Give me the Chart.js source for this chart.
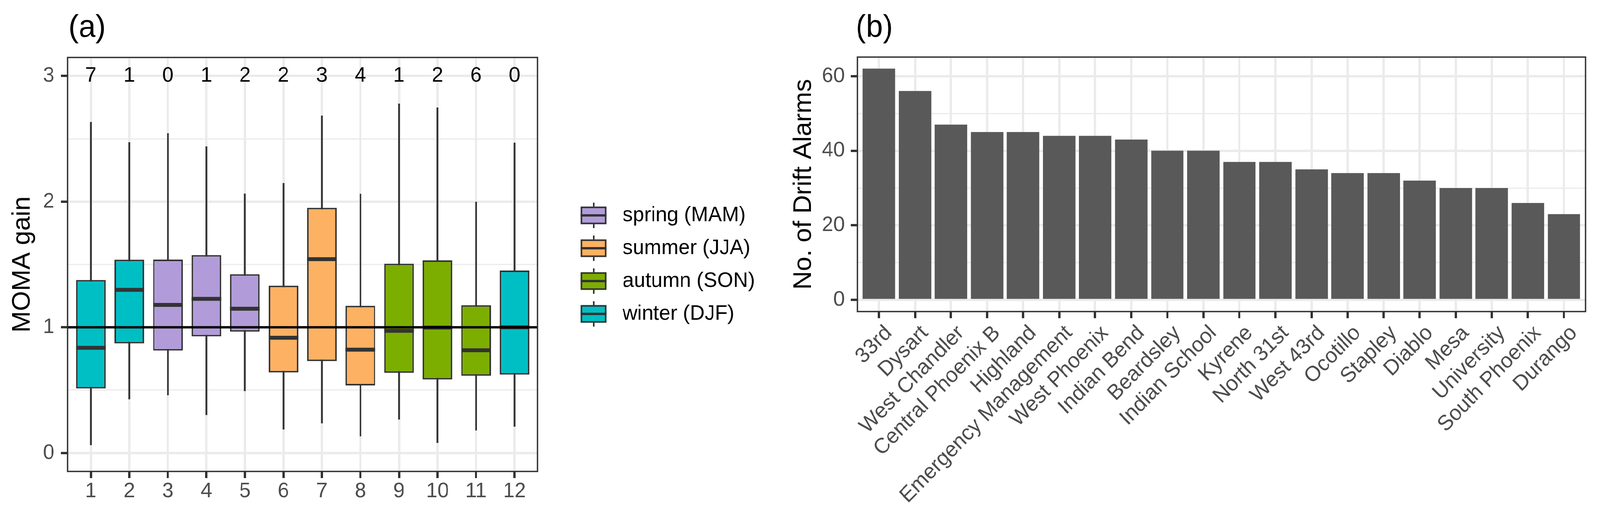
<!DOCTYPE html>
<html>
<head>
<meta charset="utf-8">
<script src="https://cdn.jsdelivr.net/npm/chart.js@4.4.1/dist/chart.umd.min.js"></script>
<style>
  html, body { margin: 0; padding: 0; background: #fff; overflow: hidden; }
  #stage { width: 4205px; height: 1320px; position: relative; transform-origin: 0 0; }
  #chartA { position: absolute; left: 0; top: 0; }
  #chartB { position: absolute; left: 2000px; top: 0; }
</style>
</head>
<body>
<div id="stage">
  <canvas id="chartA" width="2000" height="1320"></canvas>
  <canvas id="chartB" width="2205" height="1320"></canvas>
</div>
<script>
// ---------- panel (a): monthly MOMA gain ----------
const months = [1, 2, 3, 4, 5, 6, 7, 8, 9, 10, 11, 12];
const monthSeason = ['winter', 'winter', 'spring', 'spring', 'spring', 'summer',
                     'summer', 'summer', 'autumn', 'autumn', 'autumn', 'winter'];
const whiskerLow  = [0.063, 0.428, 0.460, 0.303, 0.493, 0.188, 0.237, 0.133, 0.267, 0.081, 0.180, 0.210];
const q1          = [0.513, 0.872, 0.815, 0.928, 0.965, 0.641, 0.731, 0.537, 0.638, 0.585, 0.614, 0.624];
const median      = [0.837, 1.298, 1.178, 1.226, 1.148, 0.917, 1.542, 0.822, 0.972, 0.998, 0.817, 1.000];
const q3          = [1.376, 1.538, 1.539, 1.575, 1.422, 1.331, 1.951, 1.171, 1.506, 1.533, 1.176, 1.452];
const whiskerHigh = [2.633, 2.472, 2.543, 2.438, 2.063, 2.147, 2.683, 2.061, 2.779, 2.748, 1.998, 2.468];
const outlierCounts = [7, 1, 0, 1, 2, 2, 3, 4, 1, 2, 6, 0];
const yTicksA = [0, 0.5, 1, 1.5, 2, 2.5, 3];

const seasonKeys = ['spring', 'summer', 'autumn', 'winter'];
const seasonLabels = ['spring (MAM)', 'summer (JJA)', 'autumn (SON)', 'winter (DJF)'];
const seasonColors = { spring: '#B19CD9', summer: '#FDB163', autumn: '#7CAE00', winter: '#00BFC4' };

// ---------- panel (b): drift alarms per station ----------
const stations = ['33rd', 'Dysart', 'West Chandler', 'Central Phoenix B', 'Highland',
                  'Emergency Management', 'West Phoenix', 'Indian Bend', 'Beardsley', 'Indian School',
                  'Kyrene', 'North 31st', 'West 43rd', 'Ocotillo', 'Stapley',
                  'Diablo', 'Mesa', 'University', 'South Phoenix', 'Durango'];
const alarms = [62, 56, 47, 45, 45, 44, 44, 43, 40, 40, 37, 37, 35, 34, 34, 32, 30, 30, 26, 23];
const yTicksB = [0, 10, 20, 30, 40, 50, 60];
const yLabelsB = [0, 20, 40, 60];

// the layout is drawn for 4205x1320; squeeze it if the window is smaller
(function fitStage() {
    const sx = window.innerWidth / 4205;
    const sy = window.innerHeight / 1320;
    if (Math.abs(sx - 1) > 0.002 || Math.abs(sy - 1) > 0.002) {
        document.getElementById('stage').style.transform = 'scale(' + sx + ',' + sy + ')';
    }
})();

// ---------- shared look ----------
const FONT = "'Liberation Sans', Arial, sans-serif";
Chart.defaults.font.family = FONT;
const darkLine = '#333333';
const gridGrey = '#EBEBEB';
const tickText = '#4D4D4D';
const smallSize = 54;

function isMajorA(v) { return Number.isInteger(v); }

// border around the panel and the (a)/(b) tag
function panelFrame(tag, tagX) {
    return {
        id: 'frame' + tag,
        afterDraw(chart) {
            const { ctx, chartArea } = chart;
            ctx.save();
            ctx.strokeStyle = darkLine;
            ctx.lineWidth = 3.5;
            ctx.strokeRect(chartArea.left, chartArea.top,
                           chartArea.right - chartArea.left, chartArea.bottom - chartArea.top);
            ctx.fillStyle = '#000';
            ctx.font = '80px ' + FONT;
            ctx.textAlign = 'left';
            ctx.textBaseline = 'alphabetic';
            ctx.fillText(tag, tagX, 94);
            ctx.restore();
        }
    };
}

// medians, the reference line at 1 and the counts along the top
const boxExtras = {
    id: 'boxExtras',
    afterDatasetsDraw(chart) {
        const { ctx, chartArea, scales } = chart;
        const boxes = chart.getDatasetMeta(0).data;
        ctx.save();
        ctx.strokeStyle = darkLine;
        ctx.lineWidth = 10;
        boxes.forEach((bar, i) => {
            const y = scales.y.getPixelForValue(median[i]);
            ctx.beginPath();
            ctx.moveTo(bar.x - bar.width / 2, y);
            ctx.lineTo(bar.x + bar.width / 2, y);
            ctx.stroke();
        });

        const y1 = scales.y.getPixelForValue(1);
        ctx.strokeStyle = '#000';
        ctx.lineWidth = 6;
        ctx.beginPath();
        ctx.moveTo(chartArea.left, y1);
        ctx.lineTo(chartArea.right, y1);
        ctx.stroke();

        ctx.fillStyle = '#000';
        ctx.font = smallSize + 'px ' + FONT;
        ctx.textAlign = 'center';
        ctx.textBaseline = 'middle';
        const y3 = scales.y.getPixelForValue(3);
        months.forEach((m, i) => {
            ctx.fillText(String(outlierCounts[i]), scales.x.getPixelForValue(m), y3);
        });
        ctx.restore();
    }
};

// season legend to the right of panel (a)
const seasonLegend = {
    id: 'seasonLegend',
    afterDraw(chart) {
        const { ctx } = chart;
        const keyX = 1560, firstY = 551, step = 84;
        const boxW = 67, boxH = 45, whisk = 10;
        ctx.save();
        seasonKeys.forEach((key, i) => {
            const cy = firstY + i * step;
            ctx.strokeStyle = darkLine;
            ctx.lineWidth = 4;
            ctx.beginPath();
            ctx.moveTo(keyX, cy - boxH / 2 - whisk);
            ctx.lineTo(keyX, cy + boxH / 2 + whisk);
            ctx.stroke();
            ctx.fillStyle = seasonColors[key];
            ctx.fillRect(keyX - boxW / 2, cy - boxH / 2, boxW, boxH);
            ctx.strokeRect(keyX - boxW / 2 + 2, cy - boxH / 2 + 2, boxW - 4, boxH - 4);
            ctx.lineWidth = 6;
            ctx.beginPath();
            ctx.moveTo(keyX - boxW / 2, cy);
            ctx.lineTo(keyX + boxW / 2, cy);
            ctx.stroke();

            ctx.fillStyle = '#000';
            ctx.font = smallSize + 'px ' + FONT;
            ctx.textAlign = 'left';
            ctx.textBaseline = 'middle';
            ctx.fillText(seasonLabels[i], 1636, cy);
        });
        ctx.restore();
    }
};

const boxData = months.map((m, i) => ({ x: m, y: [q1[i], q3[i]] }));
const whiskerData = months.map((m, i) => ({ x: m, y: [whiskerLow[i], whiskerHigh[i]] }));

new Chart(document.getElementById('chartA'), {
    type: 'bar',
    data: {
        datasets: [
            {
                label: 'box',
                data: boxData,
                backgroundColor: monthSeason.map(s => seasonColors[s]),
                borderColor: darkLine,
                borderWidth: 4,
                borderSkipped: false,
                grouped: false,
                barPercentage: 0.77,
                categoryPercentage: 1
            },
            {
                label: 'whisker',
                data: whiskerData,
                backgroundColor: darkLine,
                borderWidth: 0,
                grouped: false,
                barThickness: 4
            }
        ]
    },
    options: {
        responsive: false,
        devicePixelRatio: 1,
        animation: false,
        events: [],
        layout: { padding: { top: 147, right: 587, bottom: 0, left: 0 } },
        plugins: { legend: { display: false }, tooltip: { enabled: false } },
        scales: {
            x: {
                type: 'linear',
                min: 0.4,
                max: 12.6,
                offset: false,
                afterBuildTicks: s => { s.ticks = months.map(v => ({ value: v })); },
                afterFit: s => { s.height = 114; },
                grid: { offset: false, color: gridGrey, lineWidth: 6, tickColor: darkLine, tickWidth: 6, tickLength: 17 },
                border: { display: false },
                ticks: {
                    autoSkip: false, minRotation: 0, maxRotation: 0, padding: 2,
                    color: tickText, font: { size: smallSize, lineHeight: 1.2 },
                    callback: v => String(v)
                }
            },
            y: {
                type: 'linear',
                min: -0.147,
                max: 3.147,
                afterBuildTicks: s => { s.ticks = yTicksA.map(v => ({ value: v })); },
                afterFit: s => { s.width = 178; },
                grid: {
                    color: gridGrey,
                    lineWidth: c => (c.tick && isMajorA(c.tick.value)) ? 6 : 3,
                    tickColor: c => (c.tick && isMajorA(c.tick.value)) ? darkLine : 'rgba(0,0,0,0)',
                    tickWidth: 6,
                    tickLength: 18
                },
                border: { display: false },
                ticks: {
                    padding: 17, color: tickText, font: { size: smallSize, lineHeight: 1.2 },
                    callback: v => isMajorA(v) ? String(v) : ''
                },
                title: {
                    display: true, text: 'MOMA gain', color: '#000',
                    font: { size: 66, lineHeight: 1 }, padding: { top: 27, bottom: 0 }
                }
            }
        }
    },
    plugins: [boxExtras, panelFrame('(a)', 180), seasonLegend]
});

new Chart(document.getElementById('chartB'), {
    type: 'bar',
    data: {
        datasets: [{
            label: 'No. of Drift Alarms',
            data: stations.map((s, i) => ({ x: i + 1, y: alarms[i] })),
            backgroundColor: '#595959',
            borderWidth: 0,
            barPercentage: 0.9,
            categoryPercentage: 1
        }]
    },
    options: {
        responsive: false,
        devicePixelRatio: 1,
        animation: false,
        events: [],
        layout: { padding: { top: 146, right: 38, bottom: 0, left: 0 } },
        plugins: { legend: { display: false }, tooltip: { enabled: false } },
        scales: {
            x: {
                type: 'linear',
                min: 0.4,
                max: stations.length + 0.6,
                offset: false,
                afterBuildTicks: s => { s.ticks = stations.map((n, i) => ({ value: i + 1 })); },
                afterFit: s => { s.height = 523; },
                grid: { offset: false, color: gridGrey, lineWidth: 6, tickColor: darkLine, tickWidth: 6, tickLength: 17 },
                border: { display: false },
                ticks: {
                    autoSkip: false, minRotation: 45, maxRotation: 45, padding: 6, labelOffset: 26,
                    color: tickText, font: { size: 55, lineHeight: 1.2 },
                    callback: v => stations[v - 1]
                }
            },
            y: {
                type: 'linear',
                min: -3.1,
                max: 65.1,
                afterBuildTicks: s => { s.ticks = yTicksB.map(v => ({ value: v })); },
                afterFit: s => { s.width = 253; },
                grid: {
                    color: gridGrey,
                    lineWidth: c => (c.tick && yLabelsB.includes(c.tick.value)) ? 6 : 3,
                    tickColor: c => (c.tick && yLabelsB.includes(c.tick.value)) ? darkLine : 'rgba(0,0,0,0)',
                    tickWidth: 6,
                    tickLength: 17
                },
                border: { display: false },
                ticks: {
                    padding: 16, color: tickText, font: { size: smallSize, lineHeight: 1.2 },
                    callback: v => yLabelsB.includes(v) ? String(v) : ''
                },
                title: {
                    display: true, text: 'No. of Drift Alarms', color: '#000',
                    font: { size: 66, lineHeight: 1 }, padding: { top: 80, bottom: 0 }
                }
            }
        }
    },
    plugins: [panelFrame('(b)', 249)]
});
</script>
</body>
</html>
